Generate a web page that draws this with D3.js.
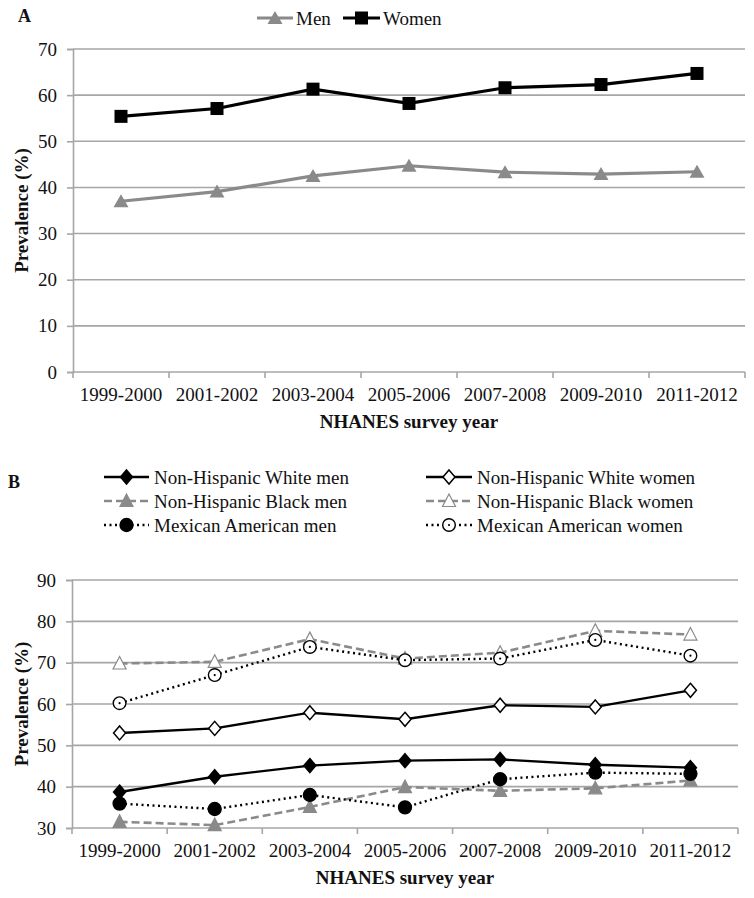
<!DOCTYPE html>
<html><head><meta charset="utf-8">
<script src="https://cdn.jsdelivr.net/npm/d3@7"></script>
<style>body{margin:0;background:#fff}svg{display:block}</style>
</head><body>
<script>
// ---- Data ----
const years = ["1999-2000","2001-2002","2003-2004","2005-2006","2007-2008","2009-2010","2011-2012"];
const ticksA = [0,10,20,30,40,50,60,70];
const ticksB = [30,40,50,60,70,80,90];
const menA   = [37.0, 39.1, 42.5, 44.7, 43.3, 42.9, 43.4];
const womenA = [55.4, 57.1, 61.3, 58.2, 61.6, 62.3, 64.7];
const nhwMen   = [38.7, 42.4, 45.1, 46.3, 46.6, 45.3, 44.6];
const nhbMen   = [31.5, 30.7, 35.1, 39.9, 39.0, 39.6, 41.5];
const mexMen   = [35.9, 34.6, 38.0, 35.0, 41.8, 43.4, 43.1];
const nhwWomen = [53.0, 54.1, 57.9, 56.3, 59.7, 59.3, 63.3];
const nhbWomen = [69.8, 70.2, 75.7, 71.0, 72.4, 77.7, 76.8];
const mexWomen = [60.2, 67.0, 73.8, 70.6, 71.0, 75.5, 71.7];

const FONT = "'Liberation Serif', 'Times New Roman', Tinos, 'DejaVu Serif', serif";
const GRAY = "#8a8a8a", GRID = "#a6a6a6";
const svg = d3.select("body").append("svg").attr("width",754).attr("height",898)
  .style("font-family",FONT);

function txt(sel){ return sel.style("font-family",FONT).attr("fill","#111"); }

function drawMarker(g, type, x, y, fill, stroke){
  if(type==="square"){
    g.append("rect").attr("x",x-6.5).attr("y",y-6.5).attr("width",13).attr("height",13).attr("fill",fill);
  } else if(type==="triA"){
    g.append("path").attr("d",`M${x},${y-7}L${x+7.5},${y+6}L${x-7.5},${y+6}Z`).attr("fill",fill);
  } else if(type==="tri"){
    g.append("path").attr("d",`M${x},${y-7}L${x+6.5},${y+5.5}L${x-6.5},${y+5.5}Z`).attr("fill",fill).attr("stroke",stroke).attr("stroke-width",1.2);
  } else if(type==="diamond"){
    g.append("path").attr("d",`M${x},${y-7}L${x+6},${y}L${x},${y+7}L${x-6},${y}Z`).attr("fill",fill).attr("stroke",stroke).attr("stroke-width",1.5);
  } else if(type==="circle"){
    g.append("circle").attr("cx",x).attr("cy",y).attr("r",6.5).attr("fill",fill).attr("stroke",stroke).attr("stroke-width",1.3);
  } else if(type==="circleDot"){
    g.append("circle").attr("cx",x).attr("cy",y).attr("r",6.3).attr("fill","#fff").attr("stroke",stroke).attr("stroke-width",1.4);
    g.append("circle").attr("cx",x).attr("cy",y).attr("r",1.1).attr("fill",stroke);
  }
}

function panel(opts){
  const {x0,x1,yTop,yBot,domain,ticks,series,label,labelY} = opts;
  const g = svg.append("g");
  const x = d3.scaleBand().domain(years).range([x0,x1]).padding(0);
  const y = d3.scaleLinear().domain(domain).range([yBot,yTop]);
  g.append("g").selectAll("line").data(ticks).join("line")
    .attr("x1",x0).attr("x2",x1).attr("y1",d=>y(d)).attr("y2",d=>y(d))
    .attr("stroke",GRID).attr("stroke-width",1.6);
  const ya = g.append("g").attr("transform",`translate(${x0},0)`)
    .call(d3.axisLeft(y).tickValues(ticks).tickSize(6).tickPadding(10).tickFormat(d3.format("d")));
  ya.attr("font-family",null);
  ya.selectAll("path,line").attr("stroke",GRID).attr("stroke-width",1.6);
  txt(ya.selectAll("text").attr("font-size",19));
  const bounds = years.map(d=>x(d)).concat([x1]);
  g.append("g").selectAll("line").data(bounds).join("line")
    .attr("x1",d=>d).attr("x2",d=>d).attr("y1",yBot).attr("y2",yBot+6)
    .attr("stroke",GRID).attr("stroke-width",1.6);
  const xa = g.append("g").attr("transform",`translate(0,${yBot})`)
    .call(d3.axisBottom(x).tickSize(0).tickPadding(16));
  xa.attr("font-family",null);
  xa.select(".domain").remove();
  txt(xa.selectAll("text").attr("font-size",19));
  txt(g.append("text").attr("x",(x0+x1)/2).attr("y",yBot+56).attr("text-anchor","middle")
    .attr("font-size",19).attr("font-weight","bold").text("NHANES survey year"));
  txt(g.append("text").attr("transform",`translate(28,${(yTop+yBot)/2}) rotate(-90)`).attr("text-anchor","middle")
    .attr("font-size",19).attr("font-weight","bold").text("Prevalence (%)"));
  const cx = d=>x(d)+x.bandwidth()/2;
  series.forEach(s=>{
    const line = d3.line().x((v,i)=>cx(years[i])).y(v=>y(v));
    g.append("path").datum(s.values).attr("d",line).attr("fill","none")
      .attr("stroke",s.color).attr("stroke-width",s.width).attr("stroke-dasharray",s.dash||null);
  });
  series.forEach(s=>{
    const mg = g.append("g");
    s.values.forEach((v,i)=>drawMarker(mg,s.marker,cx(years[i]),y(v),s.fill,s.mstroke));
  });
  txt(g.append("text").attr("x",label[1]).attr("y",labelY).attr("font-size",18).attr("font-weight","bold").text(label[0]));
  return g;
}

const seriesA = [
  {name:"Men", values:menA, color:GRAY, width:3.2, marker:"triA", fill:GRAY},
  {name:"Women", values:womenA, color:"#000", width:3.2, marker:"square", fill:"#000"}
];
panel({x0:73,x1:745,yTop:49,yBot:372,domain:[0,70],ticks:ticksA,series:seriesA,label:["A",18],labelY:22});

const seriesB = [
  {name:"Non-Hispanic White men", values:nhwMen, color:"#000", width:2.4, marker:"diamond", fill:"#000", mstroke:"#000"},
  {name:"Non-Hispanic Black men", values:nhbMen, color:GRAY, width:2.6, dash:"8,4", marker:"tri", fill:GRAY, mstroke:GRAY},
  {name:"Mexican American men", values:mexMen, color:"#000", width:2.4, dash:"2,3.5", marker:"circle", fill:"#000", mstroke:"#000"},
  {name:"Non-Hispanic White women", values:nhwWomen, color:"#000", width:2.4, marker:"diamond", fill:"#fff", mstroke:"#000"},
  {name:"Non-Hispanic Black women", values:nhbWomen, color:GRAY, width:2.6, dash:"8,4", marker:"tri", fill:"#fff", mstroke:GRAY},
  {name:"Mexican American women", values:mexWomen, color:"#000", width:2.4, dash:"2,3.5", marker:"circleDot", fill:"#fff", mstroke:"#000"}
];
panel({x0:72,x1:738,yTop:580,yBot:828,domain:[30,90],ticks:ticksB,series:seriesB,label:["B",8],labelY:488});

const legA = svg.append("g");
[{s:seriesA[0],lx:257,rx:293,tx:296},{s:seriesA[1],lx:343,rx:380,tx:383}].forEach(o=>{
  const cy=18;
  legA.append("line").attr("x1",o.lx).attr("x2",o.rx).attr("y1",cy).attr("y2",cy).attr("stroke",o.s.color).attr("stroke-width",3.2);
  drawMarker(legA,o.s.marker,(o.lx+o.rx)/2,cy,o.s.fill,o.s.mstroke);
  txt(legA.append("text").attr("x",o.tx).attr("y",cy+6.5).attr("font-size",19).text(o.s.name));
});

const legB = svg.append("g");
const rowsY = [477,501,525];
seriesB.forEach((s,i)=>{
  const col = Math.floor(i/3), row = i%3;
  const lx = col===0?104:426, rx = col===0?149:472, tx = col===0?154:477;
  const cy = rowsY[row];
  legB.append("line").attr("x1",lx).attr("x2",rx).attr("y1",cy).attr("y2",cy).attr("stroke",s.color)
    .attr("stroke-width",s.width).attr("stroke-dasharray",s.dash||null);
  drawMarker(legB,s.marker,(lx+rx)/2,cy,s.fill,s.mstroke);
  txt(legB.append("text").attr("x",tx).attr("y",cy+6.5).attr("font-size",19).text(s.name));
});
</script>
</body></html>
